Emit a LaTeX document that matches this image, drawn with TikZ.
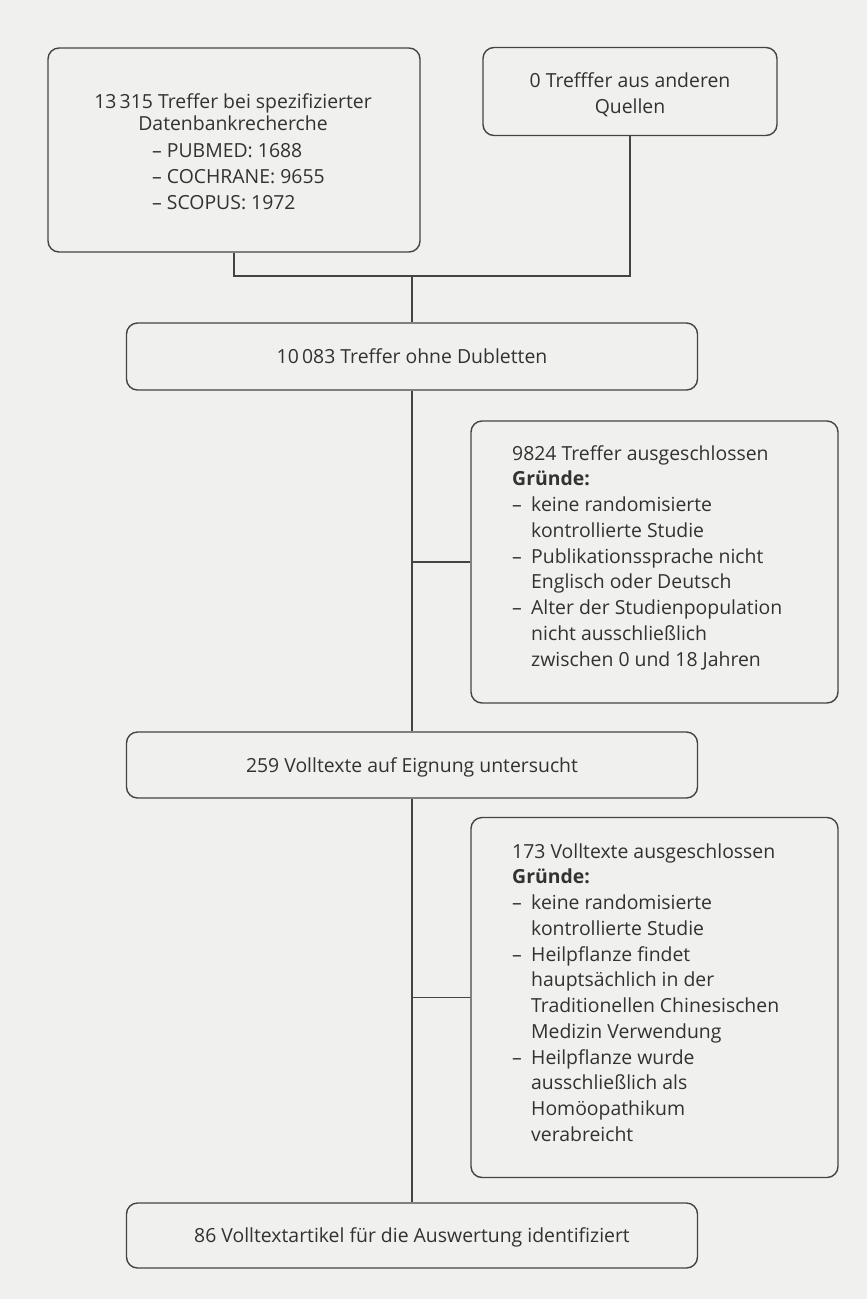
\documentclass[tikz,border=0pt]{standalone}
\usepackage{fontspec}
\setmainfont{Open Sans}
\definecolor{bg}{RGB}{240,240,238}
\definecolor{ln}{RGB}{68,68,68}
\definecolor{tx}{RGB}{50,50,50}
\newcommand\xdash{\makebox[19pt][l]{–}}
\newcommand\xind{\hspace*{19pt}}
\begin{document}
\begin{tikzpicture}[x=1pt,y=-1pt,
  box/.style={draw=ln, line width=1.4pt, rounded corners=11pt, inner sep=0pt},
  conn/.style={draw=ln, line width=1.4pt},
  lbl/.style={text=tx, font=\fontsize{19.4}{25.75}\selectfont, inner sep=0pt},
  one/.style={text height=16pt, text depth=2pt}]
\fill[bg] (0,0) rectangle (867,1299);
\useasboundingbox (0,0) rectangle (867,1299);

% boxes
\node[box, minimum width=372pt, minimum height=204pt] (b1) at (234,150) {};
\node[box, minimum width=294pt, minimum height=88pt] (b2) at (630,91.5) {};
\node[box, lbl, one, minimum width=571pt, minimum height=67pt] (b3) at (412,356.5) {10\,083 Treffer ohne Dubletten};
\node[box, minimum width=367pt, minimum height=282pt] (b5) at (654.5,562) {};
\node[box, lbl, one, minimum width=571pt, minimum height=66pt] (b4) at (412,765) {259 Volltexte auf Eignung untersucht};
\node[box, minimum width=367pt, minimum height=360pt] (b7) at (654.5,997.5) {};
\node[box, lbl, one, minimum width=571pt, minimum height=65pt] (b6) at (412,1235.5) {86 Volltextartikel für die Auswertung identifiziert};

% texts of the larger boxes
\node[lbl, font=\fontsize{19.4}{22}\selectfont, align=center, anchor=north] (t1) at (233,92) {\rule{0pt}{16pt}13\,315 Treffer bei spezifizierter\\Datenbankrecherche};
\node[lbl, font=\fontsize{19.4}{26}\selectfont, align=left, anchor=north west] (t1l) at (152,141) {\rule{0pt}{16pt}– PUBMED: 1688\\– COCHRANE: 9655\\– SCOPUS: 1972};
\node[lbl, font=\fontsize{19.4}{26.5}\selectfont, align=center, anchor=north] (t2) at (630,71) {\rule{0pt}{16pt}0 Trefffer aus anderen\\Quellen};
\node[lbl, align=left, anchor=north west] (t5) at (512,444) {\rule{0pt}{16pt}9824 Treffer ausgeschlossen\\
\textbf{Gründe:}\\
\xdash keine randomisierte\\
\xind kontrollierte Studie\\
\xdash Publikationssprache nicht\\
\xind Englisch oder Deutsch\\
\xdash Alter der Studienpopulation\\
\xind nicht ausschließlich\\
\xind zwischen 0 und 18 Jahren};
\node[lbl, align=left, anchor=north west] (t7) at (512,842) {\rule{0pt}{16pt}173 Volltexte ausgeschlossen\\
\textbf{Gründe:}\\
\xdash keine randomisierte\\
\xind kontrollierte Studie\\
\xdash Heilpflanze findet\\
\xind hauptsächlich in der\\
\xind Traditionellen Chinesischen\\
\xind Medizin Verwendung\\
\xdash Heilpflanze wurde\\
\xind ausschließlich als\\
\xind Homöopathikum\\
\xind verabreicht};

% connectors
\coordinate (m) at (412,276);
\draw[conn] (b1.south) |- (m) -| (b2.south);
\draw[conn] (m) -- (b3.north);
\draw[conn] (b3.south) -- (b4.north);
\draw[conn] (b3.south |- b5.west) -- (b5.west);
\draw[conn] (b4.south) -- (b6.north);
\draw[conn] (b4.south |- b7.west) -- (b7.west);
\end{tikzpicture}
\end{document}
